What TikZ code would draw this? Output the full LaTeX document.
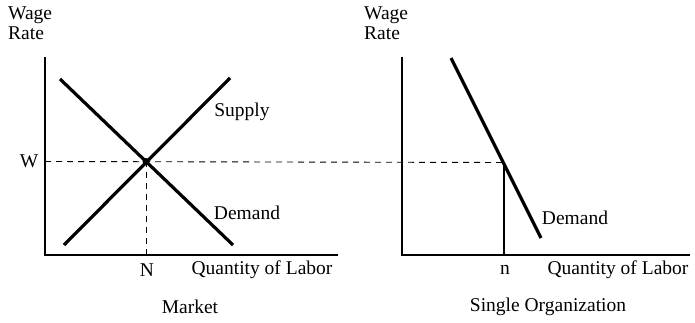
\documentclass[tikz,border=0pt]{standalone}
\usepackage{fontspec}
\setmainfont{Liberation Serif}
\begin{document}
\begin{tikzpicture}[x=1pt,y=-1pt,
  axis/.style={line width=1.4pt},
  curve/.style={line width=3.2pt},
  guide/.style={line width=0.9pt,dash pattern=on 6pt off 5pt},
  lbl/.style={font=\fontsize{19.5}{20}\selectfont,inner sep=0pt},
  ylbl/.style={font=\fontsize{19.5}{20}\selectfont,inner sep=0pt,align=left,anchor=north west}]
\useasboundingbox (0,0) rectangle (695,323);
% left panel
\coordinate (LO) at (45,255);
\coordinate (LT) at (45,57);
\coordinate (LR) at (338,255);
\coordinate (S1) at (64,245);
\coordinate (S2) at (230,78);
\coordinate (D1) at (60,79);
\coordinate (D2) at (233,245);
\coordinate (E) at (146,161.5);
\coordinate (EN) at (146,255);
\draw[axis] (LT) -- (LO) -- (LR);
\draw[curve] (S1) -- (S2);
\draw[curve] (D1) -- (D2);
\fill (E) circle (3.5pt);
\draw[guide] (EN) -- (E);
% right panel
\coordinate (RO) at (402,255);
\coordinate (RT) at (402,57);
\coordinate (RR) at (690,255);
\coordinate (d1) at (451,58);
\coordinate (d2) at (541,238);
\coordinate (e) at (504,162.5);
\coordinate (en) at (504,255);
\draw[axis] (RT) -- (RO) -- (RR);
\draw[curve] (d1) -- (d2);
\draw[axis] (en) -- (e);
% wage dashed line
\coordinate (Wl) at (45,161.5);
\draw[guide] (Wl) -- (e);
% labels
\node[ylbl] (wr1) at (8,7) {Wage\\Rate};
\node[ylbl] (wr2) at (364,7) {Wage\\Rate};
\node[lbl] (W) at (29,161) {W};
\node[lbl] (N) at (147,270) {N};
\node[lbl] (ql) at (262,270) {Quantity of Labor};
\node[lbl] (mk) at (190,307) {Market};
\node[lbl] (sup) at (242,112) {Supply};
\node[lbl] (dem) at (247,213) {Demand};
\node[lbl] (n) at (505,270) {n};
\node[lbl] (qr) at (618,270) {Quantity of Labor};
\node[lbl] (so) at (548,307) {Single Organization};
\node[lbl] (dem2) at (575,218) {Demand};
\end{tikzpicture}
\end{document}
